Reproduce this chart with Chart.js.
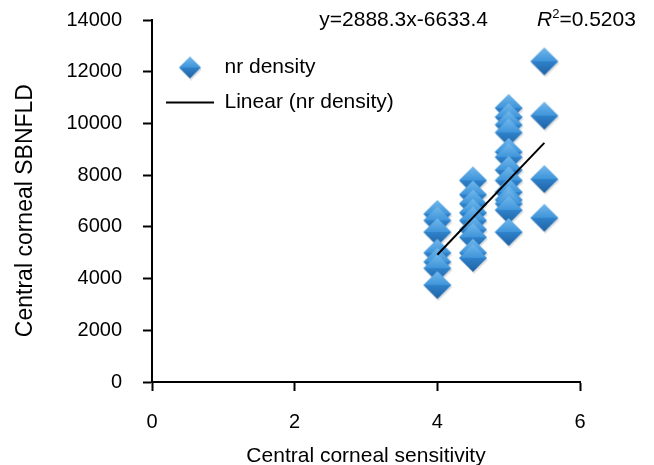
<!DOCTYPE html>
<html>
<head>
<meta charset="utf-8">
<script src="https://cdn.jsdelivr.net/npm/chart.js@4"></script>
<style>
  body { margin: 0; background: #fff; }
  #wrap { width: 654px; height: 465px; position: relative; }
</style>
</head>
<body>
<div id="wrap"><canvas id="scatterChart"></canvas></div>
<script>
// values
const sensitivity = [
    4, 4, 4, 4, 4, 4, 4,
    4.5, 4.5, 4.5, 4.5, 4.5, 4.5, 4.5, 4.5, 4.5,
    5, 5, 5, 5, 5, 5, 5, 5, 5, 5, 5, 5, 5,
    5.5, 5.5, 5.5, 5.5
];
const density = [
    6500, 6250, 5800, 5000, 4650, 4400, 3750,
    7800, 7250, 6900, 6550, 6250, 5900, 5600, 5000, 4800,
    10600, 10250, 9950, 9650, 8900, 8700, 8200, 7800, 7350, 7050, 6900, 6650, 5800,
    12400, 10300, 7850, 6350
];
const trendX = [4, 5.5];
const trendY = [4920, 9250];
const equationText = 'y=2888.3x-6633.4';
const r2Text = '=0.5203';

const FONT = "'Liberation Sans', Arial, sans-serif";

function diamondImage(r) {
    const size = 2 * r + 4;
    const c = document.createElement('canvas');
    c.width = size;
    c.height = size;
    const g = c.getContext('2d');
    const cx = size / 2, cy = size / 2;

    // soft shadow
    g.fillStyle = 'rgba(0,0,0,0.12)';
    g.beginPath();
    g.moveTo(cx - r + 1, cy + 2);
    g.lineTo(cx + 1, cy - r + 2);
    g.lineTo(cx + r + 1, cy + 2);
    g.lineTo(cx + 1, cy + r + 2);
    g.closePath();
    g.fill();

    const top = g.createLinearGradient(0, cy - r, 0, cy);
    top.addColorStop(0, '#72b8ec');
    top.addColorStop(1, '#3f95da');
    g.fillStyle = top;
    g.beginPath();
    g.moveTo(cx - r, cy);
    g.lineTo(cx, cy - r);
    g.lineTo(cx + r, cy);
    g.closePath();
    g.fill();

    const bottom = g.createLinearGradient(0, cy, 0, cy + r);
    bottom.addColorStop(0, '#2f82cb');
    bottom.addColorStop(1, '#1f62a4');
    g.fillStyle = bottom;
    g.beginPath();
    g.moveTo(cx - r, cy);
    g.lineTo(cx + r, cy);
    g.lineTo(cx, cy + r);
    g.closePath();
    g.fill();
    return c;
}

const bigDiamond = diamondImage(14);
const smallDiamond = diamondImage(11);

const points = sensitivity.map((x, i) => ({ x, y: density[i] }));
const trend = trendX.map((x, i) => ({ x, y: trendY[i] }));

// equation and R² text at the top
const equationLabel = {
    id: 'equationLabel',
    afterDraw(chart) {
        const ctx = chart.ctx;
        ctx.save();
        ctx.fillStyle = '#000';
        ctx.textBaseline = 'middle';
        ctx.font = '21px ' + FONT;
        ctx.textAlign = 'right';
        ctx.fillText(equationText, 488, 20);
        ctx.textAlign = 'left';
        ctx.font = 'italic 21px ' + FONT;
        ctx.fillText('R', 537, 20);
        const rw = ctx.measureText('R').width;
        ctx.font = '13px ' + FONT;
        ctx.fillText('2', 537 + rw, 14);
        const sw = ctx.measureText('2').width;
        ctx.font = '21px ' + FONT;
        ctx.fillText(r2Text, 537 + rw + sw, 20);
        ctx.restore();
    }
};

const ctx = document.getElementById('scatterChart').getContext('2d');
new Chart(ctx, {
    type: 'scatter',
    data: {
        datasets: [
            {
                label: 'nr density',
                data: points,
                pointStyle: bigDiamond,
                pointRadius: 14,
                order: 1
            },
            {
                label: 'Linear (nr density)',
                data: trend,
                showLine: true,
                borderColor: '#000',
                backgroundColor: '#000',
                borderWidth: 2,
                pointRadius: 0,
                pointStyle: 'line',
                order: 0
            }
        ]
    },
    options: {
        responsive: true,
        maintainAspectRatio: false,
        animation: false,
        layout: { padding: { top: 20, right: 74, left: 0, bottom: 0 } },
        scales: {
            x: {
                type: 'linear',
                min: 0,
                max: 6,
                afterFit: scale => { scale.height = 83; },
                ticks: { stepSize: 2, color: '#000', padding: 19, font: { size: 20, family: FONT } },
                grid: { drawOnChartArea: false, tickLength: 9, tickColor: '#000', tickWidth: 2 },
                border: { color: '#000', width: 2 },
                title: {
                    display: true,
                    text: 'Central corneal sensitivity',
                    color: '#000',
                    font: { size: 21, family: FONT },
                    padding: { top: 0, bottom: -4 }
                }
            },
            y: {
                min: 0,
                max: 14000,
                afterFit: scale => {
                    scale.width = 152;
                    scale.paddingTop = 0;
                    scale.paddingBottom = 0;
                },
                ticks: {
                    stepSize: 2000,
                    color: '#000',
                    padding: 21,
                    font: { size: 20, family: FONT },
                    callback: value => String(value)
                },
                grid: { drawOnChartArea: false, tickLength: 9, tickColor: '#000', tickWidth: 2 },
                border: { color: '#000', width: 2 },
                title: {
                    display: true,
                    text: 'Central corneal SBNFLD   ',
                    color: '#000',
                    font: { size: 23, family: FONT },
                    padding: { top: 12, bottom: 0 }
                }
            }
        },
        plugins: {
            legend: {
                position: 'chartArea',
                align: 'start',
                title: {
                    display: true,
                    text: ' ',
                    font: { size: 10, family: FONT },
                    padding: { top: 17, bottom: 14 }
                },
                labels: {
                    usePointStyle: true,
                    pointStyleWidth: 48,
                    padding: 14,
                    color: '#000',
                    font: { size: 21, family: FONT },
                    sort: (a, b) => a.datasetIndex - b.datasetIndex,
                    generateLabels: chart => {
                        const items = Chart.defaults.plugins.legend.labels.generateLabels(chart);
                        items.forEach(item => {
                            if (item.datasetIndex === 0) item.pointStyle = smallDiamond;
                        });
                        return items;
                    }
                }
            },
            tooltip: { enabled: false }
        }
    },
    plugins: [equationLabel]
});
</script>
</body>
</html>
